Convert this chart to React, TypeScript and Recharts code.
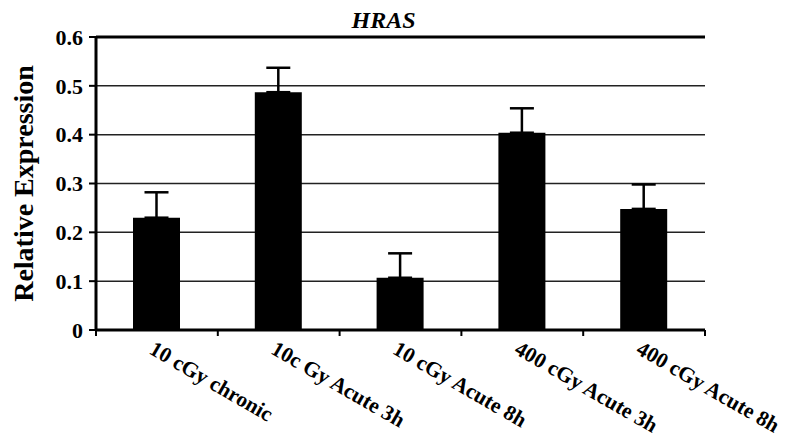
import {
  BarChart,
  Bar,
  XAxis,
  YAxis,
  CartesianGrid,
  ErrorBar,
  ReferenceLine,
} from 'recharts';

const categories = [
  '10 cGy chronic',
  '10c Gy Acute 3h',
  '10 cGy Acute 8h',
  '400 cGy Acute 3h',
  '400 cGy Acute 8h',
];
const expression = [0.23, 0.487, 0.107, 0.404, 0.248];
const errors = [0.052, 0.05, 0.05, 0.05, 0.05];
const yTicks = [0, 0.1, 0.2, 0.3, 0.4, 0.5, 0.6];

const data = categories.map((name, i) => ({
  name,
  value: expression[i],
  err: [0, errors[i]],
}));

const W = 788;
const H = 443;
const M = { top: 37, right: 83, bottom: 0, left: 0 };
const Y_W = 96;
const X_H = 113;
const PLOT_W = W - M.left - M.right - Y_W;
const FONT = "'Liberation Serif', 'Times New Roman', serif";

const XTick = (props: any) => {
  const { x, y, payload, index } = props;
  const step = PLOT_W / categories.length;
  const tx = x - 9;
  const ty = y + 23;
  return (
    <g>
      <line x1={x - step / 2} x2={x - step / 2} y1={y} y2={y + 6} stroke="#000" strokeWidth={2} />
      {index === categories.length - 1 && (
        <line x1={x + step / 2} x2={x + step / 2} y1={y} y2={y + 6} stroke="#000" strokeWidth={2} />
      )}
      <text
        x={tx}
        y={ty}
        transform={`rotate(30, ${tx}, ${ty})`}
        textAnchor="start"
        fontFamily={FONT}
        fontWeight="bold"
        fontSize={21.5}
        fill="#000"
      >
        {payload.value}
      </text>
    </g>
  );
};

export default function App() {
  return (
    <div style={{ position: 'absolute', left: 0, top: 0, background: '#fff' }}>
      <BarChart width={W} height={H} data={data} margin={M} barSize={47}>
        <CartesianGrid vertical={false} stroke="#222" strokeWidth={1.5} />
        <XAxis
          dataKey="name"
          height={X_H}
          interval={0}
          tickLine={false}
          tickSize={0}
          tickMargin={0}
          axisLine={{ stroke: '#000', strokeWidth: 3 }}
          tick={<XTick />}
        />
        <YAxis
          width={Y_W}
          domain={[0, 0.6]}
          ticks={yTicks}
          interval={0}
          tickSize={7}
          tickMargin={6}
          tickLine={{ stroke: '#000', strokeWidth: 2 }}
          axisLine={{ stroke: '#000', strokeWidth: 3 }}
          tick={{ fill: '#000', fontFamily: FONT, fontWeight: 'bold', fontSize: 22 }}
          label={{
            content: ({ viewBox }: any) => {
              const lx = viewBox.x + 33;
              const ly = viewBox.y + viewBox.height / 2;
              return (
                <text
                  x={lx}
                  y={ly}
                  transform={`rotate(-90, ${lx}, ${ly})`}
                  textAnchor="middle"
                  fontFamily={FONT}
                  fontWeight="bold"
                  fontSize={28}
                  fill="#000"
                >
                  Relative Expression
                </text>
              );
            },
          }}
        />
        <YAxis
          yAxisId="r"
          orientation="right"
          width={0}
          domain={[0, 0.6]}
          tick={false}
          tickLine={false}
          axisLine={{ stroke: '#000', strokeWidth: 3 }}
        />
        <ReferenceLine
          y={0.6}
          stroke="#000"
          strokeWidth={3}
          label={{
            content: ({ viewBox }: any) => (
              <text
                x={viewBox.x + viewBox.width / 2 - 17}
                y={viewBox.y - 9}
                textAnchor="middle"
                fontFamily={FONT}
                fontWeight="bold"
                fontStyle="italic"
                fontSize={24}
                fill="#000"
              >
                HRAS
              </text>
            ),
          }}
        />
        <Bar dataKey="value" fill="#000" isAnimationActive={false}>
          <ErrorBar dataKey="err" direction="y" width={12} stroke="#000" strokeWidth={2.5} />
        </Bar>
      </BarChart>
    </div>
  );
}
